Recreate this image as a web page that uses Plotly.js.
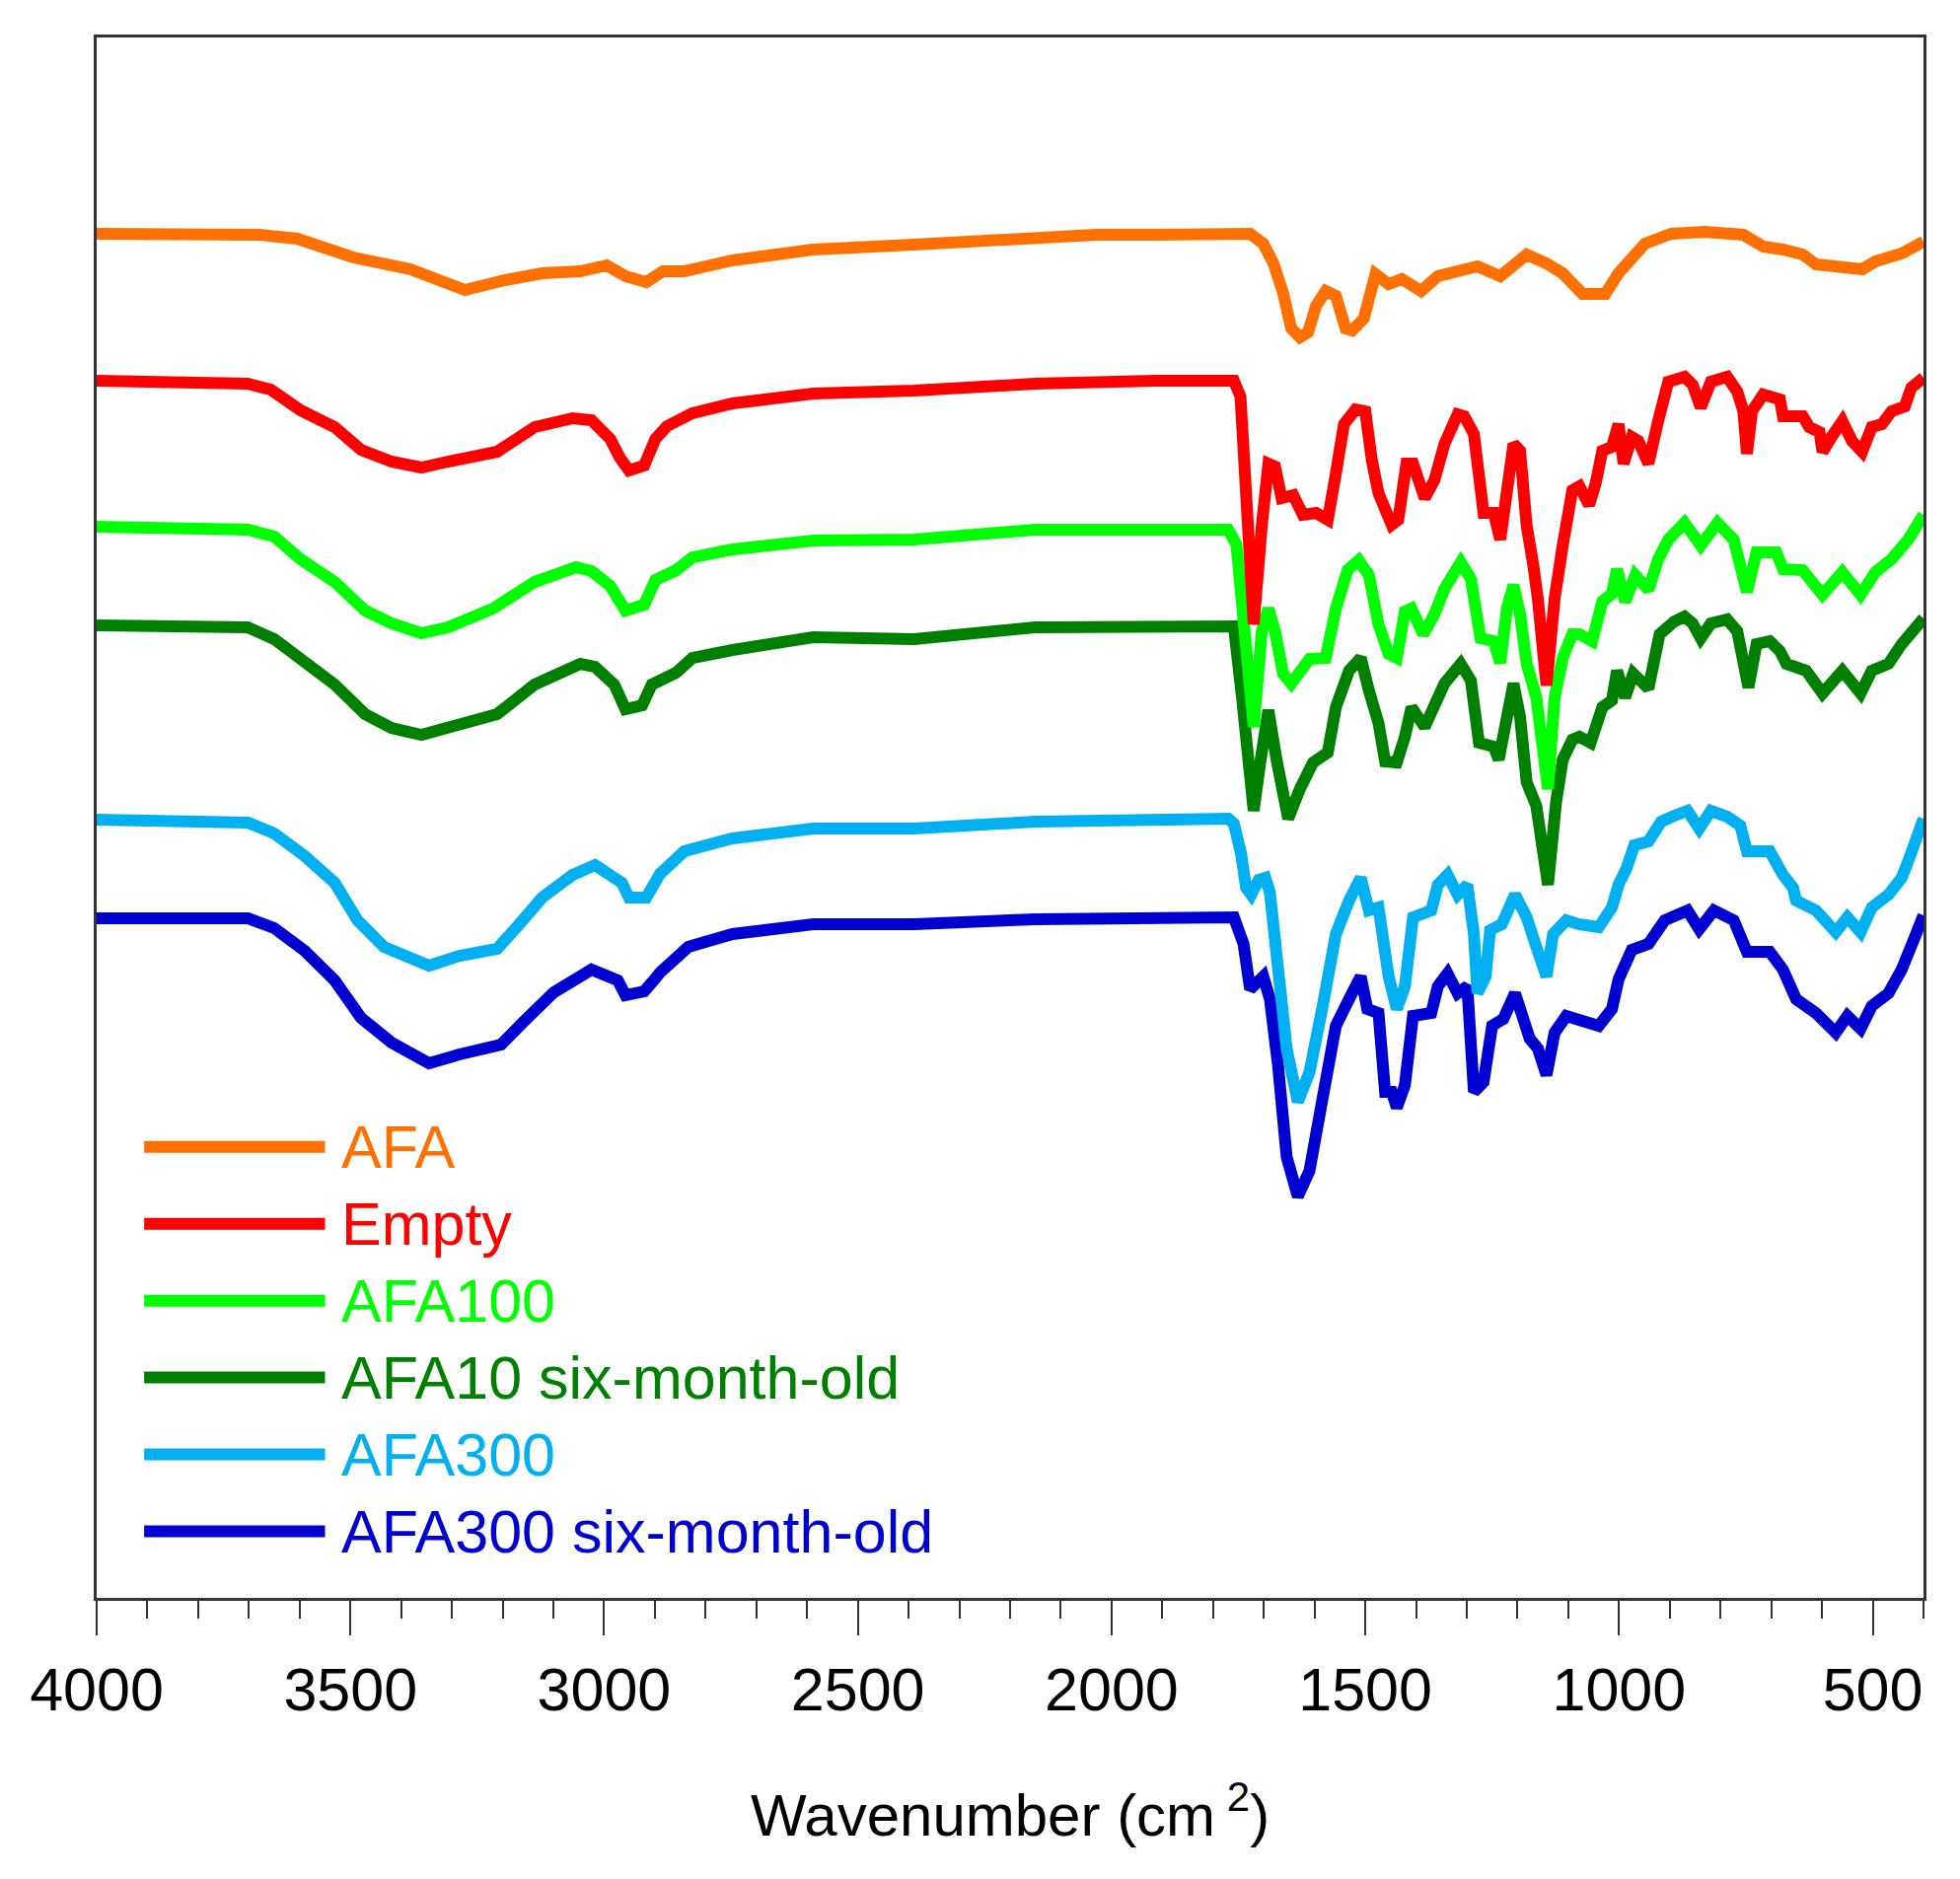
<!DOCTYPE html>
<html>
<head>
<meta charset="utf-8">
<script src="https://cdn.plot.ly/plotly-3.0.1.min.js"></script>
<style>
  html, body { margin: 0; padding: 0; background: #fff; }
  #ftir { width: 1987px; height: 1905px; }
</style>
</head>
<body>
<div id="ftir"></div>
<script>
// FTIR spectra, wavenumber in cm-1, transmittance in arbitrary units (curves stacked)
const afaX = [4000, 3680, 3605, 3494, 3382, 3330, 3274, 3196, 3122, 3047,
  2995, 2958, 2917, 2884, 2842, 2747, 2588, 2389, 2231, 2032,
  1913, 1759, 1727, 1701, 1681, 1662, 1646, 1629, 1613, 1597,
  1578, 1558, 1539, 1526, 1503, 1480, 1454, 1428, 1390, 1357,
  1305, 1279, 1234, 1182, 1143, 1111, 1072, 1040, 1027, 1001,
  949, 897, 832, 755, 716, 677, 638, 612, 560, 521,
  495, 443, 400];
const afaY = [138.3, 138.2, 137.8, 135.9, 134.7, 133.8, 132.6, 133.6, 134.3, 134.5,
  135.1, 134.0, 133.4, 134.5, 134.5, 135.6, 136.7, 137.2, 137.7, 138.2,
  138.2, 138.5, 138.3, 137.3, 135.3, 132.3, 128.7, 127.8, 128.3, 131.0,
  132.5, 132.0, 128.7, 128.5, 129.7, 134.2, 133.2, 133.7, 132.5, 134.0,
  134.8, 135.0, 134.0, 136.2, 135.3, 134.3, 132.2, 132.0, 132.2, 134.3,
  137.3, 138.3, 138.5, 138.2, 137.0, 136.7, 136.2, 135.2, 134.8, 134.7,
  135.5, 136.3, 137.5];

const emptyX = [4000, 3702, 3657, 3598, 3531, 3479, 3419, 3360, 3308, 3211,
  3137, 3062, 3025, 2988, 2969, 2951, 2921, 2899, 2876, 2858,
  2826, 2747, 2588, 2389, 2151, 1913, 1770, 1759, 1746, 1730,
  1720, 1704, 1691, 1678, 1665, 1642, 1623, 1597, 1574, 1558,
  1542, 1519, 1500, 1487, 1474, 1448, 1435, 1419, 1406, 1383,
  1364, 1344, 1318, 1305, 1286, 1267, 1247, 1234, 1221, 1208,
  1195, 1182, 1169, 1160, 1143, 1127, 1111, 1092, 1078, 1059,
  1046, 1033, 1014, 1001, 991, 975, 962, 942, 923, 903,
  871, 855, 839, 819, 787, 767, 755, 748, 738, 716,
  683, 677, 638, 625, 605, 599, 580, 560, 541, 521,
  502, 482, 463, 437, 424, 400];
const emptyY = [123.4, 123.1, 122.5, 120.4, 118.7, 116.4, 115.2, 114.6, 115.2, 116.2,
  118.7, 119.6, 119.4, 117.5, 115.6, 114.3, 114.8, 117.5, 118.8, 119.3,
  120.1, 121.1, 122.1, 122.4, 123.1, 123.4, 123.4, 123.4, 121.8, 108.7,
  98.7, 108.7, 115.0, 114.7, 111.5, 111.8, 109.8, 110.0, 109.3, 114.0,
  119.0, 120.5, 120.3, 115.3, 112.0, 108.8, 109.3, 115.0, 115.0, 111.5,
  113.3, 117.0, 120.0, 119.8, 118.0, 110.0, 110.0, 107.3, 113.3, 117.0,
  116.3, 108.7, 104.7, 101.3, 92.5, 101.3, 106.7, 112.3, 112.7, 110.8,
  113.0, 116.3, 116.7, 119.0, 115.0, 117.7, 117.3, 115.0, 119.3, 123.3,
  123.8, 123.0, 120.7, 123.3, 123.8, 122.3, 120.3, 116.0, 120.3, 122.0,
  121.5, 119.8, 119.8, 118.7, 118.2, 116.2, 117.8, 119.3, 117.3, 116.2,
  118.7, 119.0, 120.3, 120.8, 122.7, 123.7];

const afa100X = [4000, 3702, 3650, 3598, 3531, 3471, 3419, 3360, 3308, 3219,
  3137, 3055, 3025, 2988, 2958, 2921, 2899, 2858, 2826, 2747,
  2588, 2389, 2151, 1913, 1770, 1754, 1746, 1733, 1720, 1704,
  1691, 1678, 1662, 1646, 1610, 1578, 1558, 1535, 1513, 1493,
  1474, 1454, 1438, 1422, 1409, 1386, 1364, 1344, 1312, 1292,
  1273, 1247, 1234, 1221, 1208, 1195, 1182, 1163, 1140, 1127,
  1111, 1092, 1078, 1053, 1033, 1014, 1004, 988, 968, 942,
  923, 903, 871, 839, 806, 774, 748, 729, 690, 677,
  638, 599, 560, 524, 495, 463, 430, 400];
const afa100Y = [108.6, 108.3, 107.6, 105.3, 103.0, 100.1, 98.8, 97.8, 98.4, 100.3,
  103.0, 104.5, 104.1, 102.6, 100.1, 100.7, 103.2, 104.2, 105.5, 106.3,
  107.2, 107.3, 108.3, 108.4, 108.3, 106.8, 103.0, 94.7, 88.3, 98.0,
  100.3, 98.0, 93.7, 92.7, 95.2, 95.3, 100.3, 104.2, 105.2, 103.7,
  98.7, 95.7, 95.3, 100.0, 100.3, 97.7, 99.7, 102.3, 105.0, 103.3,
  97.3, 97.0, 94.8, 100.3, 102.7, 99.7, 94.7, 91.3, 82.0, 91.3,
  95.3, 97.7, 97.7, 97.0, 101.0, 101.8, 104.3, 101.0, 103.7, 102.2,
  105.3, 107.3, 109.0, 106.7, 109.0, 107.3, 102.0, 106.0, 106.0, 104.3,
  104.2, 101.7, 104.0, 101.7, 104.0, 105.3, 107.3, 109.8];

const afa10oldX = [4000, 3702, 3650, 3598, 3531, 3471, 3419, 3360, 3300, 3211,
  3137, 3047, 3018, 2980, 2958, 2925, 2906, 2858, 2826, 2747,
  2588, 2389, 2151, 1913, 1770, 1759, 1743, 1720, 1707, 1691,
  1675, 1652, 1629, 1603, 1574, 1558, 1532, 1509, 1493, 1474,
  1461, 1438, 1422, 1409, 1383, 1364, 1344, 1312, 1292, 1276,
  1247, 1237, 1224, 1208, 1195, 1182, 1163, 1140, 1124, 1111,
  1092, 1078, 1056, 1033, 1014, 1004, 988, 972, 942, 920,
  891, 871, 855, 839, 819, 787, 767, 755, 745, 729,
  703, 683, 670, 631, 599, 560, 524, 502, 469, 443,
  424, 400];
const afa10oldY = [98.6, 98.4, 97.2, 95.3, 92.6, 89.6, 88.2, 87.5, 88.4, 89.6,
  92.6, 94.7, 94.4, 92.6, 90.1, 90.5, 92.6, 93.8, 95.3, 96.1,
  97.4, 97.2, 98.4, 98.6, 98.6, 98.5, 91.3, 79.8, 84.7, 90.0,
  85.0, 79.0, 82.0, 84.7, 85.7, 90.3, 94.0, 95.3, 92.0, 88.7,
  84.8, 84.7, 87.3, 90.3, 88.3, 90.3, 92.7, 94.7, 93.0, 86.7,
  86.3, 85.0, 89.3, 92.7, 89.3, 82.7, 80.3, 72.3, 80.7, 85.0,
  87.0, 87.3, 86.7, 90.3, 91.0, 94.0, 91.3, 93.7, 92.2, 97.7,
  99.0, 99.5, 98.8, 97.3, 98.8, 99.2, 98.0, 95.3, 92.3, 96.7,
  97.0, 96.0, 94.7, 94.0, 91.7, 94.0, 91.7, 94.0, 94.7, 96.7,
  97.7, 99.3];

const afa300X = [4000, 3702, 3650, 3590, 3531, 3486, 3434, 3382, 3345, 3285,
  3211, 3174, 3122, 3062, 3018, 2965, 2951, 2917, 2899, 2890,
  2842, 2747, 2588, 2389, 2151, 1913, 1770, 1759, 1745, 1735,
  1725, 1710, 1697, 1688, 1675, 1655, 1633, 1610, 1584, 1558,
  1532, 1509, 1493, 1474, 1454, 1438, 1422, 1406, 1370, 1357,
  1338, 1318, 1299, 1286, 1279, 1263, 1254, 1231, 1205, 1182,
  1163, 1143, 1130, 1104, 1079, 1040, 1014, 1001, 985, 970,
  942, 917, 891, 865, 842, 819, 787, 761, 748, 703,
  677, 657, 651, 612, 573, 550, 524, 502, 469, 443,
  430, 400];
const afa300Y = [78.9, 78.6, 77.5, 75.2, 72.5, 68.7, 66.0, 64.7, 64.1, 65.1,
  65.8, 67.9, 71.0, 73.3, 74.3, 72.5, 71.0, 71.0, 72.9, 73.4,
  75.7, 77.0, 78.0, 78.0, 78.7, 79.0, 79.0, 78.5, 75.5, 72.0,
  71.3, 72.8, 73.0, 71.5, 64.0, 55.7, 50.3, 53.3, 60.0, 67.3,
  70.7, 73.0, 69.7, 70.0, 63.0, 59.7, 62.0, 69.0, 69.7, 72.3,
  73.3, 71.3, 72.3, 67.3, 61.3, 63.0, 67.7, 68.3, 71.3, 69.0,
  66.0, 63.0, 67.3, 68.7, 68.3, 68.0, 70.0, 72.3, 74.0, 76.3,
  76.7, 78.7, 79.3, 79.8, 78.0, 79.8, 79.2, 78.3, 75.7, 75.7,
  73.3, 72.0, 70.7, 69.7, 67.5, 69.0, 67.5, 70.0, 71.3, 73.0,
  74.7, 79.0];

const afa300oldX = [4000, 3702, 3650, 3590, 3531, 3479, 3419, 3345, 3285, 3203,
  3159, 3099, 3025, 2973, 2958, 2921, 2899, 2890, 2834, 2747,
  2588, 2389, 2151, 1913, 1770, 1759, 1740, 1727, 1701, 1688,
  1672, 1655, 1633, 1610, 1584, 1558, 1532, 1509, 1496, 1474,
  1461, 1448, 1438, 1422, 1406, 1370, 1357, 1338, 1318, 1299,
  1286, 1267, 1250, 1228, 1205, 1176, 1160, 1143, 1127, 1104,
  1079, 1040, 1014, 1001, 975, 942, 910, 865, 842, 813,
  774, 748, 703, 677, 651, 612, 573, 550, 524, 502,
  469, 443, 417, 400];
const afa300oldY = [68.9, 68.9, 67.9, 65.6, 62.6, 58.8, 56.3, 54.2, 55.1, 56.1,
  58.4, 61.4, 63.7, 62.6, 61.1, 61.5, 62.8, 63.4, 66.0, 67.3,
  68.3, 68.3, 68.8, 69.1, 69.0, 69.0, 66.3, 61.7, 63.0, 60.7,
  54.0, 44.7, 40.7, 43.3, 50.7, 58.0, 60.7, 63.0, 59.7, 59.3,
  51.3, 51.3, 49.7, 52.0, 59.0, 59.3, 62.0, 63.3, 61.3, 62.0,
  51.3, 52.3, 58.0, 58.7, 61.3, 56.7, 55.7, 53.0, 57.3, 59.0,
  58.6, 58.0, 59.7, 62.7, 65.7, 66.3, 68.7, 69.7, 67.8, 69.7,
  68.7, 65.5, 65.5, 63.7, 60.7, 59.3, 57.3, 59.0, 57.7, 60.0,
  61.3, 63.7, 67.0, 69.2];

const names = ['AFA', 'Empty', 'AFA100', 'AFA10 six-month-old', 'AFA300', 'AFA300 six-month-old'];
const colors = ['#ff7000', '#ff0000', '#00ff00', '#008000', '#00b0f0', '#0000d0'];
const xs = [afaX, emptyX, afa100X, afa10oldX, afa300X, afa300oldX];
const ys = [afaY, emptyY, afa100Y, afa10oldY, afa300Y, afa300oldY];
const tickVals = [4000, 3500, 3000, 2500, 2000, 1500, 1000, 500];

const font = 'Liberation Sans, Arial, sans-serif';

var data = [];
for (var i = names.length - 1; i >= 0; i--) {
  data.push({
    x: xs[i],
    y: ys[i],
    name: names[i],
    type: 'scatter',
    mode: 'lines',
    line: {color: colors[i], width: 12, shape: 'linear'},
    showlegend: false
  });
}

// hand-made legend: long sample line + coloured label
var shapes = [];
var annotations = [];
for (var k = 0; k < names.length; k++) {
  var yy = 0.2891 - 0.0493 * k;
  shapes.push({
    type: 'line', xref: 'paper', yref: 'paper',
    x0: 0.026, x1: 0.125, y0: yy, y1: yy,
    line: {color: colors[k], width: 12}
  });
  annotations.push({
    xref: 'paper', yref: 'paper', x: 0.133, y: yy,
    xanchor: 'left', yanchor: 'middle', showarrow: false,
    text: names[k],
    font: {family: font, size: 61, color: colors[k]}
  });
}

var layout = {
  width: 1987,
  height: 1905,
  margin: {l: 98, r: 37, t: 38, b: 285},
  paper_bgcolor: '#ffffff',
  plot_bgcolor: '#ffffff',
  font: {family: font, color: '#000'},
  showlegend: false,
  xaxis: {
    range: [4000, 400],
    tickvals: tickVals,
    ticks: 'outside',
    ticklen: 35,
    tickwidth: 2,
    tickcolor: '#333',
    minor: {dtick: 100, ticks: 'outside', ticklen: 18, tickwidth: 2, tickcolor: '#333'},
    showgrid: false,
    zeroline: false,
    showline: true,
    linecolor: '#333',
    linewidth: 3,
    mirror: true,
    tickfont: {family: font, size: 61, color: '#000'},
    ticklabelstandoff: 3,
    title: {
      text: 'Wavenumber (cm<sup> 2</sup>)',
      font: {family: font, size: 60, color: '#000'},
      standoff: 73
    }
  },
  yaxis: {
    range: [0, 158.2],
    showticklabels: false,
    ticks: '',
    showgrid: false,
    zeroline: false,
    showline: true,
    linecolor: '#333',
    linewidth: 3,
    mirror: true
  },
  shapes: shapes,
  annotations: annotations
};

Plotly.newPlot('ftir', data, layout, {displayModeBar: false, staticPlot: true});
</script>
</body>
</html>
